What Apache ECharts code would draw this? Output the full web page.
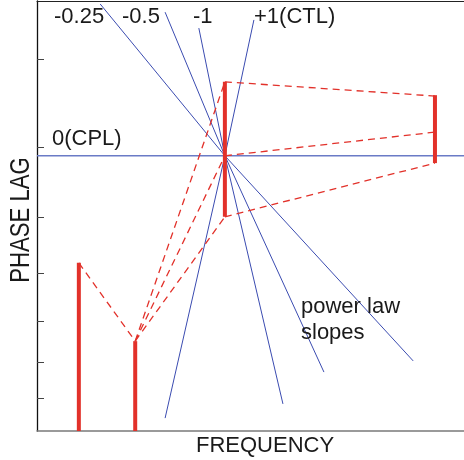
<!DOCTYPE html>
<html>
<head>
<meta charset="utf-8">
<script src="https://cdn.jsdelivr.net/npm/echarts@6/dist/echarts.min.js"></script>
<style>html,body{margin:0;padding:0;background:#fff;}#c{width:464px;height:460px;}</style>
</head>
<body>
<div id="c"></div>
<script>
// ---- data (arbitrary units: log frequency 0-100, phase lag 0-100) ----
const slopeLabels = ['-0.25', '-0.5', '-1', '+1(CTL)'];
const slopeTopX = [14.8, 30.0, 37.9, 50.8];
const slopeTopY = [99.3, 97.4, 93.7, 95.6];
const slopeEndX = [88.1, 67.2, 57.6, 30.0];
const slopeEndY = [16.3, 13.7, 6.3, 3.0];
const pivot = [44.0, 64.0];            // CPL level at pivot frequency
const cplLabel = '0(CPL)';
const barX = [9.8, 23.0, 44.0, 93.2];
const barLow = [0, 0, 49.8, 62.3];
const barHigh = [39.1, 20.9, 81.2, 78.1];
const rightEndY = [77.9, 69.5, 62.3];   // dashed line ends at last bar
const yTicks = [86.5, 66.0, 49.8, 36.7, 25.6, 16.0, 7.7];
const xTitle = 'FREQUENCY';
const yTitle = 'PHASE LAG';
const note = ['power law', 'slopes'];

const BLUE = '#3a4bb0';
const RED = '#e2312a';
const series = [];

// horizontal CPL line
series.push({type: 'line', data: [[0, pivot[1]], [100, pivot[1]]], showSymbol: false, silent: true,
  lineStyle: {color: '#6a7bc6', width: 1.6}, z: 2});

// power-law slope lines through pivot
slopeLabels.forEach((s, i) => {
  series.push({type: 'line', name: s, showSymbol: false, silent: true,
    data: [[slopeTopX[i], slopeTopY[i]], pivot, [slopeEndX[i], slopeEndY[i]]],
    lineStyle: {color: BLUE, width: 1}, z: 3});
});

// dashed connectors
const dashStyle = {color: RED, width: 1.3, type: [7, 5]};
const dashed = [
  [[barX[0], barHigh[0]], [barX[1], barHigh[1]]],
  [[barX[1], barHigh[1]], [barX[2], barHigh[2]]],
  [[barX[1], barHigh[1]], pivot],
  [[barX[1], barHigh[1]], [barX[2], barLow[2]]],
  [[barX[2], barHigh[2]], [barX[3], rightEndY[0]]],
  [pivot, [barX[3], rightEndY[1]]],
  [[barX[2], barLow[2]], [barX[3], rightEndY[2]]]
];
dashed.forEach(d => series.push({type: 'line', data: d, showSymbol: false, silent: true,
  lineStyle: dashStyle, z: 4}));

// thick red bars
barX.forEach((x, i) => {
  series.push({type: 'line', data: [[x, barLow[i]], [x, barHigh[i]]], showSymbol: false, silent: true,
    clip: false, lineStyle: {color: RED, width: 4, cap: 'butt'}, z: 5});
});

const txt = (t, x, y, extra) => Object.assign({type: 'text', x: x, y: y, z: 10,
  style: {text: t, fill: '#1a1a1a', font: '22px "Liberation Sans", Arial, sans-serif', verticalAlign: 'middle', align: 'left'}}, extra || {});

const labelX = [54, 122, 193, 254];
const graphic = slopeLabels.map((s, i) => txt(s, labelX[i], 17));
graphic.push(txt(cplLabel, 52, 139));
graphic.push(txt(note[0], 301, 307));
graphic.push(txt(note[1], 301, 333));
graphic.push(txt(xTitle, 196, 446));
graphic.push({type: 'text', x: 22, y: 220, rotation: Math.PI / 2, scaleX: 0.82, z: 10,
  style: {text: yTitle, fill: '#1a1a1a', font: '27px "Liberation Sans", Arial, sans-serif',
    align: 'center', verticalAlign: 'middle'}});

const chart = echarts.init(document.getElementById('c'), null, {renderer: 'canvas'});
chart.setOption({
  animation: false,
  grid: {left: 37, right: 0, top: 1, bottom: 29},
  xAxis: [
    {type: 'value', min: 0, max: 100, position: 'bottom',
      axisLine: {show: true, lineStyle: {color: '#7a7a7a', width: 1.5}},
      axisTick: {show: false}, axisLabel: {show: false}, splitLine: {show: false}},
    {type: 'value', min: 0, max: 100, position: 'top',
      axisLine: {show: true, lineStyle: {color: '#222', width: 1}},
      axisTick: {show: false}, axisLabel: {show: false}, splitLine: {show: false}}
  ],
  yAxis: {type: 'value', min: 0, max: 100,
    axisLine: {show: true, lineStyle: {color: '#111', width: 1.3}},
    axisTick: {show: true, inside: true, length: 7, customValues: yTicks, lineStyle: {color: '#444', width: 1}},
    axisLabel: {show: false}, splitLine: {show: false}},
  series: series,
  graphic: graphic
});
</script>
</body>
</html>
